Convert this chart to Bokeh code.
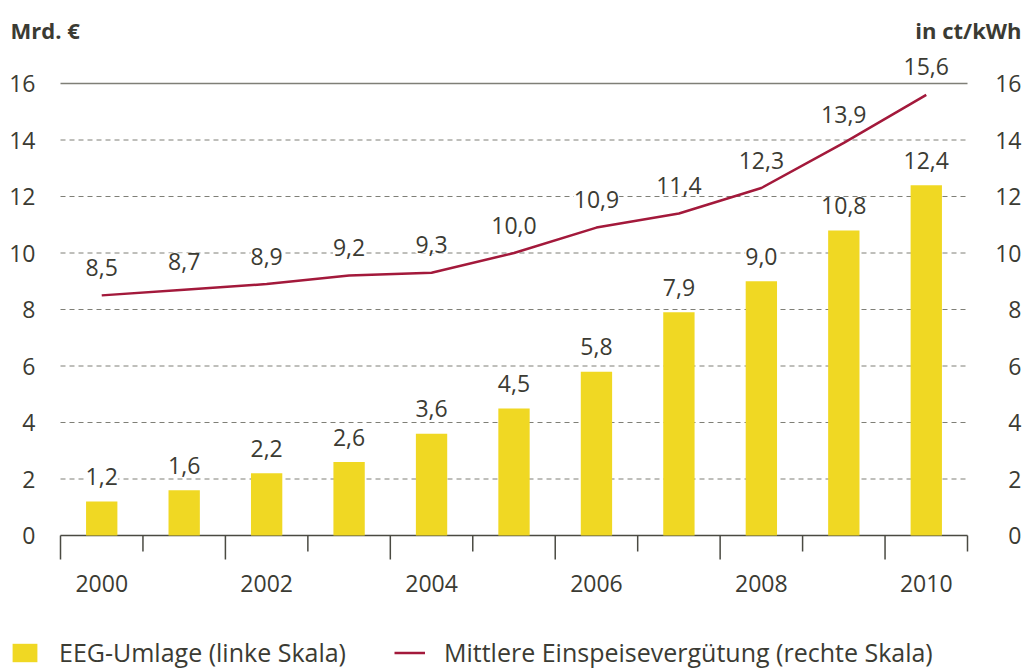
from bokeh.plotting import figure
from bokeh.models import Range1d, Legend, LegendItem, Label
from bokeh.core.properties import value
from bokeh.embed import file_html
from bokeh.resources import INLINE

# ---- data ----
years = [2000, 2001, 2002, 2003, 2004, 2005, 2006, 2007, 2008, 2009, 2010]
eeg_umlage = [1.2, 1.6, 2.2, 2.6, 3.6, 4.5, 5.8, 7.9, 9.0, 10.8, 12.4]
verguetung = [8.5, 8.7, 8.9, 9.2, 9.3, 10.0, 10.9, 11.4, 12.3, 13.9, 15.6]
y_ticks = [0, 2, 4, 6, 8, 10, 12, 14, 16]
x_tick_years = [2000, 2002, 2004, 2006, 2008, 2010]
left_title = "Mrd. €"
right_title = "in ct/kWh"
legend_labels = ["EEG-Umlage (linke Skala)", "Mittlere Einspeisevergütung (rechte Skala)"]

FONT = "Open Sans"
FS = "23px"
TXT = "#3b3b33"
BAR = "#f0d823"
LINE = "#a3193b"
GRID = "#7f7f77"
AXC = "#4a4a42"

W, H = 1025, 669
PX = 28.25                   # px per unit (vertical)
PXX = (967 - 60) / 11        # px per year (horizontal)

def fmt(v):
    return f"{v:.1f}".replace(".", ",")

# boundaries between year slots
bounds = [y - 0.5 for y in years] + [years[-1] + 0.5]
x_start = bounds[0] - 60 / PXX
x_end = bounds[-1] + (W - 967) / PXX
y_start = -(H - 535) / PX
y_end = 535 / PX

p = figure(width=W, height=H, output_backend="svg", toolbar_location=None,
           x_range=Range1d(x_start, x_end), y_range=Range1d(y_start, y_end),
           x_axis_location=None, y_axis_location=None,
           min_border=0, min_border_left=0, min_border_right=0,
           min_border_top=0, min_border_bottom=0)
p.outline_line_color = None
p.xgrid.visible = False
p.ygrid.visible = False

# gridlines (dashed), top line and zero line (solid)
grid_vals = y_ticks[1:-1]
p.segment(x0=[bounds[0]] * len(grid_vals), x1=[bounds[-1]] * len(grid_vals),
          y0=grid_vals, y1=grid_vals, line_color=GRID, line_width=1, line_dash="5 4")
p.segment(x0=[bounds[0]], x1=[bounds[-1]], y0=[y_ticks[-1]], y1=[y_ticks[-1]],
          line_color=GRID, line_width=1.5)
p.segment(x0=[bounds[0]], x1=[bounds[-1]], y0=[y_ticks[0]], y1=[y_ticks[0]],
          line_color=AXC, line_width=1.5)

# boundary ticks below the zero line (long at even, short at odd)
tick_len = [24 / PX if i % 2 == 0 else 16 / PX for i in range(len(bounds))]
p.segment(x0=bounds, x1=bounds, y0=[0] * len(bounds), y1=[-t for t in tick_len],
          line_color=AXC, line_width=1.5)

# y tick labels, left and right
p.text(x=[bounds[0]] * len(y_ticks), y=y_ticks, text=[str(t) for t in y_ticks],
       x_offset=-25, text_align="right", text_baseline="middle",
       text_font=value(FONT), text_font_size=FS, text_color=TXT)
p.text(x=[bounds[-1]] * len(y_ticks), y=y_ticks, text=[str(t) for t in y_ticks],
       x_offset=54, text_align="right", text_baseline="middle",
       text_font=value(FONT), text_font_size=FS, text_color=TXT)

# x tick labels
p.text(x=x_tick_years, y=[0] * len(x_tick_years), text=[str(y) for y in x_tick_years],
       y_offset=48, text_align="center", text_baseline="middle",
       text_font=value(FONT), text_font_size=FS, text_color=TXT)

# bars
bars = p.vbar(x=years, top=eeg_umlage, width=0.38, fill_color=BAR, line_color=None)

# line
ln = p.line(years, verguetung, line_color=LINE, line_width=2.5)

# value labels
p.text(x=years, y=eeg_umlage, text=[fmt(v) for v in eeg_umlage],
       text_align="center", text_baseline="middle", y_offset=-25,
       text_font=value(FONT), text_font_size=FS, text_color=TXT,
       background_fill_color="white", padding=0)
p.text(x=years, y=verguetung, text=[fmt(v) for v in verguetung],
       text_align="center", text_baseline="middle", y_offset=-28,
       text_font=value(FONT), text_font_size=FS, text_color=TXT,
       background_fill_color="white", padding=0)

# unit titles
p.add_layout(Label(x=10, y=H - 29, x_units="screen", y_units="screen", text=left_title,
                   text_font=FONT, text_font_size="22px", text_font_style="bold",
                   text_color=TXT, text_baseline="middle"))
p.add_layout(Label(x=1021, y=H - 29, x_units="screen", y_units="screen", text=right_title,
                   text_font=FONT, text_font_size="22px", text_font_style="bold",
                   text_color=TXT, text_baseline="middle", text_align="right"))

# legend
legend = Legend(items=[LegendItem(label=legend_labels[0], renderers=[bars]),
                       LegendItem(label=legend_labels[1], renderers=[ln])],
                orientation="horizontal", location=(9, 0),
                glyph_width=31, glyph_height=23, label_standoff=19, spacing=48,
                padding=0, margin=0, border_line_color=None, background_fill_alpha=0,
                label_text_font=FONT, label_text_font_size="25px", label_text_color=TXT,
                label_height=23)
p.add_layout(legend, "center")

open("out.html", "w").write(file_html(p, INLINE))
